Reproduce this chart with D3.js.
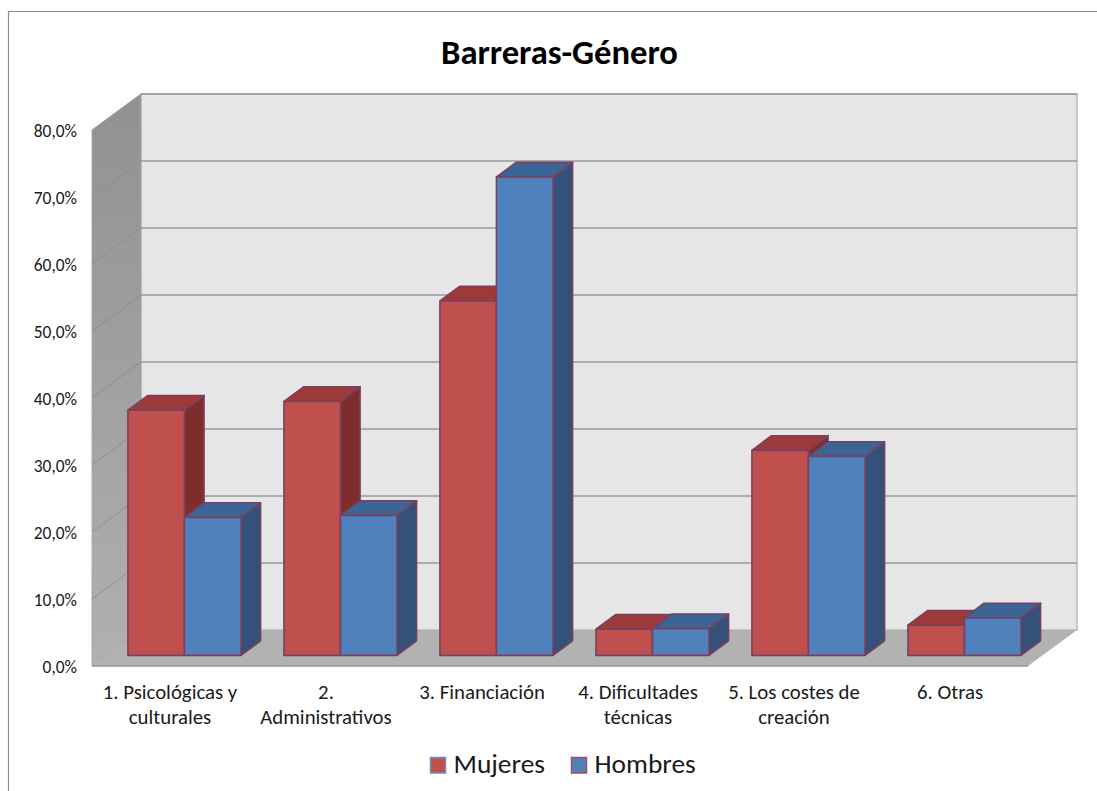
<!DOCTYPE html>
<html><head><meta charset="utf-8">
<script src="https://cdnjs.cloudflare.com/ajax/libs/d3/7.8.5/d3.min.js"></script>
<style>html,body{margin:0;padding:0;background:#fff}svg{display:block}text{font-family:Carlito,Lato,"Open Sans",sans-serif}</style>
</head><body><svg id="c" width="1097" height="791"></svg>
<script>
const title = "Barreras-Género";
const categories = ["1. Psicológicas y culturales","2. Administrativos","3. Financiación","4. Dificultades técnicas","5. Los costes de creación","6. Otras"];
const categoryLines = [["1. Psicológicas y","culturales"],["2.","Administrativos"],["3. Financiación"],["4. Dificultades","técnicas"],["5. Los costes de","creación"],["6. Otras"]];
const seriesNames = ["Mujeres","Hombres"];
const mujeres = [36.6,37.9,52.9,3.9,30.6,4.5];
const hombres = [20.6,20.9,71.4,4.0,29.7,5.6];
const yTicks = [0,10,20,30,40,50,60,70,80];
const colors = {Mujeres:{front:"#c0504d",top:"#9b3a38",side:"#7d2e2c",legend:"#6f8fb8"},Hombres:{front:"#4f81bd",top:"#3a6595",side:"#345279",legend:"#a34f55"}};
const edge = "#7a4060";

const svg = d3.select("#c");
const defs = svg.append("defs");
const wallG = defs.append("linearGradient").attr("id","wall").attr("x1",0).attr("y1",0).attr("x2",0).attr("y2",1);
wallG.append("stop").attr("offset",0).attr("stop-color","#919191");
wallG.append("stop").attr("offset",1).attr("stop-color","#b0b0b0");

const x0 = 92, xEnd = 1028, yBottom = 666, yTop = 130, depthX = 49, depthY = -36, barDepthX = 19.6, barDepthY = -14.6, barDepthStart = 0.295;
const y = d3.scaleLinear().domain([0,80]).range([yBottom,yTop]);
const xBand = d3.scaleBand().domain(categories).range([x0,xEnd]);
const xInner = d3.scaleBand().domain(seriesNames).range([0,xBand.step()]).paddingInner(0).paddingOuter(0.38);
const line = d3.line();
const poly = p => line(p)+"Z";

// chart frame: only the top and left edges are in the picture
svg.append("path").attr("d",line([[8.5,791],[8.5,11.5],[1097,11.5]])).attr("fill","none").attr("stroke","#8c8c8c").attr("stroke-width",1.2);

// walls and floor
svg.append("path").attr("d",poly([[x0+depthX,y(80)+depthY],[xEnd+depthX,y(80)+depthY],[xEnd+depthX,y(0)+depthY],[x0+depthX,y(0)+depthY]])).attr("fill","#e6e6e6").attr("stroke","#bcbcbc").attr("stroke-width",1.5);
svg.append("path").attr("d",poly([[x0,y(80)],[x0+depthX,y(80)+depthY],[x0+depthX,y(0)+depthY],[x0,y(0)]])).attr("fill","url(#wall)").attr("stroke","#a8a8a8");
svg.append("path").attr("d",poly([[x0,y(0)],[x0+depthX,y(0)+depthY],[xEnd+depthX,y(0)+depthY],[xEnd,y(0)]])).attr("fill","#b2b2b2");
svg.append("line").attr("x1",x0).attr("x2",xEnd).attr("y1",y(0)).attr("y2",y(0)).attr("stroke","#969696").attr("stroke-width",1.6);

// gridlines
yTicks.filter(t=>t>0).forEach(t=>{
  svg.append("path").attr("d",line([[x0,y(t)],[x0+depthX,y(t)+depthY]])).attr("fill","none").attr("stroke","#8a8a8a").attr("stroke-width",1).attr("opacity",t===80?0.5:0.8);
  svg.append("path").attr("d",line([[x0+depthX,y(t)+depthY],[xEnd+depthX,y(t)+depthY]])).attr("fill","none").attr("stroke","#9a9a9a").attr("stroke-width",1.6);
});

// y axis labels
svg.append("g").selectAll("text").data(yTicks).join("text")
  .attr("x",x0-15).attr("y",d=>y(d)+6.5).attr("text-anchor","end")
  .attr("font-size",17.4).attr("fill","#1a1a1a").text(d=>d.toFixed(1).replace(".",",")+"%");

// bars
const ox = depthX*barDepthStart, oy = depthY*barDepthStart;
const rows = categories.flatMap((c,i)=>[{c,s:"Mujeres",v:mujeres[i]},{c,s:"Hombres",v:hombres[i]}]);
const g = svg.append("g").attr("stroke",edge).attr("stroke-width",1.6).attr("stroke-linejoin","round");
rows.forEach(d=>{
  const l = xBand(d.c)+xInner(d.s)+ox, r = l+xInner.bandwidth();
  const t = y(d.v)+oy, b = y(0)+oy;
  const col = colors[d.s];
  g.append("path").attr("d",poly([[r,t],[r+barDepthX,t+barDepthY],[r+barDepthX,b+barDepthY],[r,b]])).attr("fill",col.side);
  g.append("path").attr("d",poly([[l,t],[l+barDepthX,t+barDepthY],[r+barDepthX,t+barDepthY],[r,t]])).attr("fill",col.top);
  g.append("rect").attr("x",l).attr("y",t).attr("width",r-l).attr("height",b-t).attr("fill",col.front);
});

// category labels
categories.forEach((c,i)=>{
  const cx = xBand(c)+xBand.bandwidth()/2;
  const t = svg.append("text").attr("text-anchor","middle").attr("font-size",20.8).attr("fill","#1a1a1a");
  categoryLines[i].forEach((s,j)=>t.append("tspan").attr("x",cx).attr("y",699+j*24.5).text(s));
});

// title
svg.append("text").attr("x",559.5).attr("y",64).attr("text-anchor","middle").attr("font-size",34.6).attr("font-weight",700).attr("fill","#000").text(title);

// legend
const legendX = [430.5,571.5];
seriesNames.forEach((s,i)=>{
  svg.append("rect").attr("x",legendX[i]).attr("y",757.5).attr("width",15).attr("height",15.5).attr("fill",colors[s].front).attr("stroke",colors[s].legend).attr("stroke-width",1.5);
  svg.append("text").attr("x",legendX[i]+23).attr("y",773).attr("font-size",27.4).attr("fill","#1a1a1a").text(s);
});
</script></body></html>
